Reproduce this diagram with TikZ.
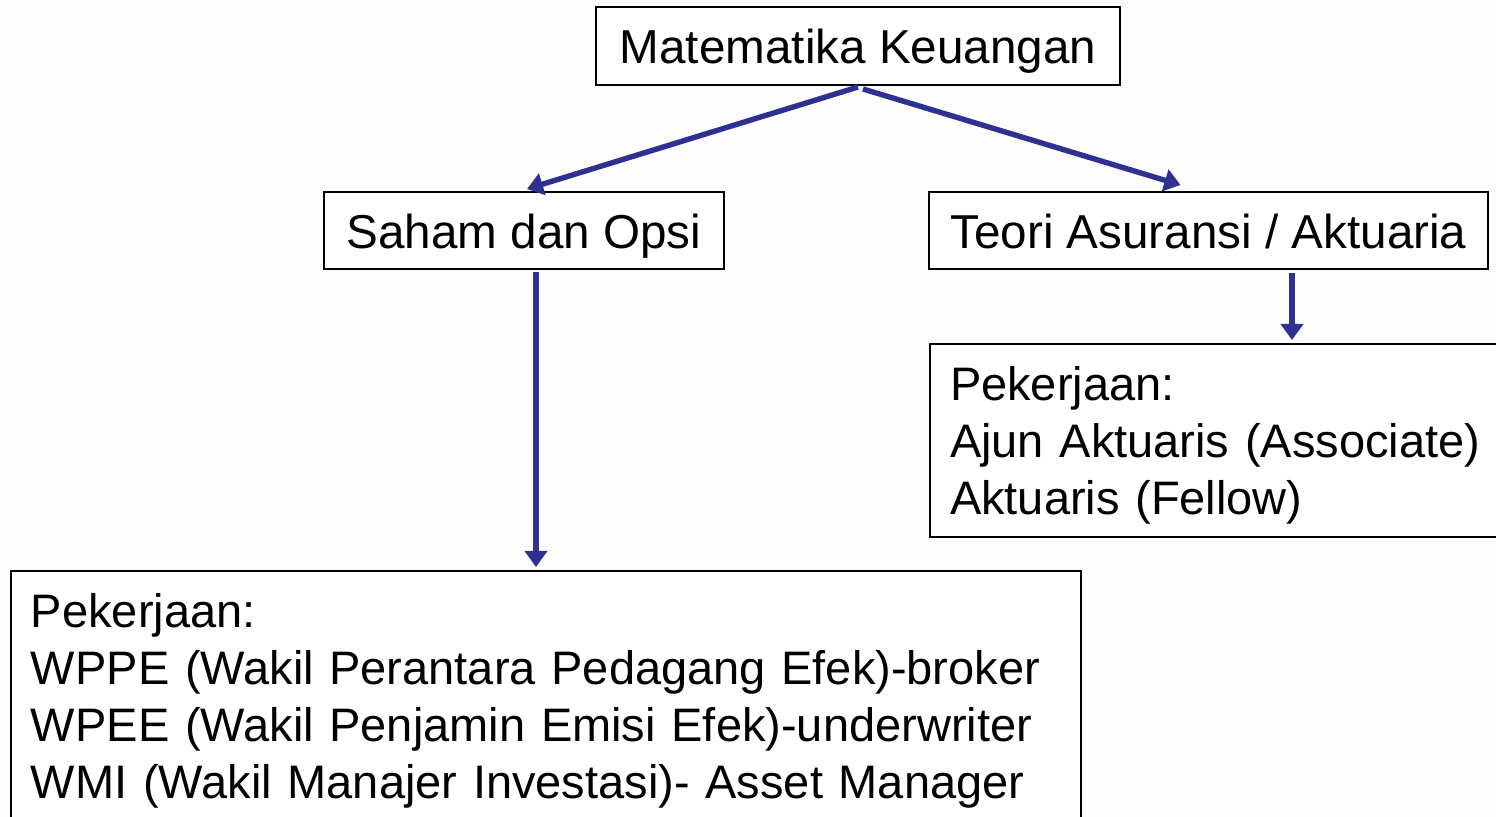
\documentclass[tikz,border=0pt]{standalone}
\usepackage{fontspec}
\setmainfont{Liberation Sans}
\usetikzlibrary{arrows.meta}
\definecolor{arrblue}{HTML}{2E3192}
\definecolor{bg}{HTML}{FDFDFD}
\tikzset{
  box/.style={draw=black, line width=1pt, fill=white, inner sep=0pt, font=\fontsize{23.8pt}{28.5pt}\selectfont},
  single/.style={box, text height=22pt, text depth=4pt},
  multi/.style={box, anchor=north west, align=left, inner xsep=10pt, font=\fontsize{23.5pt}{28.5pt}\selectfont},
  arr/.style={draw=arrblue, line width=2.7pt, -{Triangle[length=8pt,width=11pt]}},
}
\begin{document}
\begin{tikzpicture}[x=0.5pt,y=-0.5pt]
\fill[bg] (0,0) rectangle (1496,817);
\useasboundingbox (0,0) rectangle (1496,817);
\clip (0,0) rectangle (1496,817);
\node[single, minimum width=262pt, minimum height=39pt] (top) at (858,46) {Matematika Keuangan};
\node[single, minimum width=200pt, minimum height=38.5pt] (saham) at (524,230.5) {Saham dan Opsi};
\node[single, minimum width=279.5pt, minimum height=38.5pt] (teori) at (1208.5,230.5) {Teori Asuransi / Aktuaria};
\node[multi, minimum width=295pt, minimum height=96.5pt, text width=275pt] (jobr) at (929,343) {\rule{0pt}{21.5pt}Pekerjaan:\\Ajun Aktuaris (Associate)\\Aktuaris (Fellow)};
\node[multi, minimum width=535pt, minimum height=130pt, text width=515pt] (jobl) at (10,570) {Pekerjaan:\\WPPE (Wakil Perantara Pedagang Efek)-broker\\WPEE (Wakil Penjamin Emisi Efek)-underwriter\\WMI (Wakil Manajer Investasi)- Asset Manager};
\coordinate (sS) at ([xshift=6pt,yshift=-1pt]saham.south);
\coordinate (lE) at (sS |- jobl.north);
\coordinate (tS) at ([xshift=41.75pt,yshift=-1.5pt]teori.south);
\coordinate (rE) at (tS |- jobr.north);
\draw[arr] ([yshift=-0.5pt]top.south) -- ([xshift=1.5pt,yshift=1pt]saham.north);
\draw[arr] ([xshift=2.5pt,yshift=-1.5pt]top.south) -- ([xshift=-14pt,yshift=3pt]teori.north);
\draw[arr] (sS) -- ([yshift=1.5pt]lE);
\draw[arr] (tS) -- ([yshift=1.5pt]rE);
\end{tikzpicture}
\end{document}
